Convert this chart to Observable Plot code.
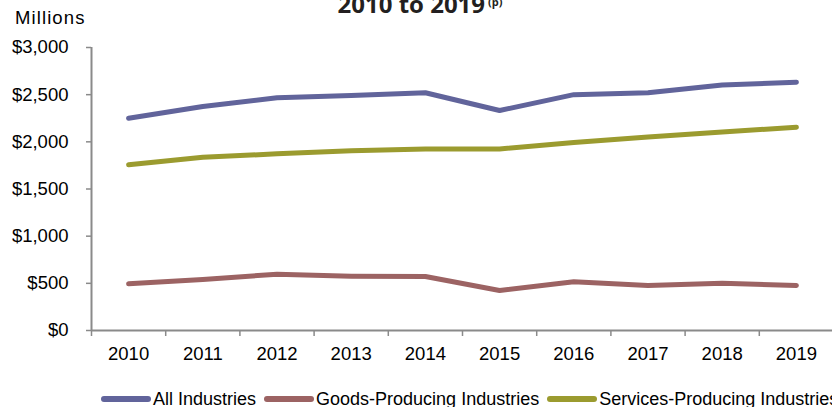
<!DOCTYPE html>
<html>
<head>
<meta charset="utf-8">
<script src="https://cdn.jsdelivr.net/npm/d3@7"></script>
<script src="https://cdn.jsdelivr.net/npm/@observablehq/plot@0.6"></script>
<style>
  html, body { margin: 0; padding: 0; background: #fff; overflow: hidden; }
  #wrap { position: relative; width: 832px; height: 407px; font-family: "Liberation Sans", Arial, sans-serif; color: #000; }
  #title { position: absolute; left: 0; width: 840px; top: -8px; text-align: center; font-family: "Open Sans", sans-serif; font-weight: 700; font-size: 24px; line-height: 24px; color: #231f20; white-space: nowrap; }
  #title sup { font-size: 11px; line-height: 11px; vertical-align: 0; position: relative; top: -7px; margin-left: 3px; }
  #units { position: absolute; left: 15px; top: 7px; font-size: 18.5px; line-height: 22px; letter-spacing: 1.1px; }
  #chart { position: absolute; left: 0; top: 0; }
  #legend { position: absolute; left: 101px; top: 388px; display: flex; align-items: center; font-size: 18px; line-height: 22px; white-space: nowrap; }
  .item { display: flex; align-items: center; margin-right: 8px; }
  .sw { width: 50px; height: 6px; border-radius: 3px; margin-right: 2px; }
</style>
</head>
<body>
<div id="wrap">
  <div id="chart"></div>
  <div id="title">2010 to 2019<sup>(p)</sup></div>
  <div id="units">Millions</div>
  <div id="legend"></div>
</div>
<script>
// ---- data ----
const years = [2010, 2011, 2012, 2013, 2014, 2015, 2016, 2017, 2018, 2019];
const allIndustries = [2250, 2375, 2467, 2490, 2520, 2332, 2500, 2520, 2602, 2632];
const goodsProducing = [495, 541, 597, 576, 572, 424, 516, 477, 502, 477];
const servicesProducing = [1756, 1836, 1873, 1905, 1925, 1925, 1993, 2050, 2105, 2155];
const seriesNames = ["All Industries", "Goods-Producing Industries", "Services-Producing Industries"];
const yTicks = [0, 500, 1000, 1500, 2000, 2500, 3000];

// ---- styles ----
const seriesColors = ["#61649b", "#9c6363", "#9b9b2f"];
const axisColor = "#8a8a8a";

const seriesValues = [allIndustries, goodsProducing, servicesProducing];
const rows = seriesNames.flatMap((name, i) =>
  years.map((year, j) => ({series: name, year, value: seriesValues[i][j]}))
);
const boundaries = years.map(y => y - 0.5);

const fmt = d => "$" + d3.format(",")(d);

const plot = Plot.plot({
  width: 832,
  height: 372,
  marginTop: 47,
  marginBottom: 42,
  marginLeft: 91,
  marginRight: 0,
  style: {fontFamily: "'Liberation Sans', Arial, sans-serif", fontSize: "18.5px", color: "#000", background: "transparent", overflow: "visible"},
  x: {domain: [years[0] - 0.5, years[years.length - 1] + 0.5], range: [91, 833]},
  y: {domain: [0, 3000], range: [330, 47]},
  color: {domain: seriesNames, range: seriesColors},
  marks: [
    Plot.axisY({ticks: yTicks, tickFormat: fmt, tickSize: 5, tickPadding: 18, stroke: axisColor, strokeWidth: 1.5, fill: "#000", label: null}),
    Plot.axisX({ticks: boundaries, tickSize: 6, tickFormat: () => "", stroke: axisColor, strokeWidth: 1.5, label: null}),
    Plot.axisX({ticks: years, tickSize: 0, tickPadding: 16, tickFormat: d => String(d), fill: "#000", label: null}),
    Plot.ruleX([boundaries[0]], {stroke: axisColor, strokeWidth: 2}),
    Plot.ruleY([0], {stroke: axisColor, strokeWidth: 2}),
    Plot.line(rows, {x: "year", y: "value", z: "series", stroke: "series", strokeWidth: 5, strokeLinejoin: "round", strokeLinecap: "round"})
  ]
});
document.getElementById("chart").appendChild(plot);

const legend = document.getElementById("legend");
seriesNames.forEach((name, i) => {
  const item = document.createElement("div");
  item.className = "item";
  const sw = document.createElement("div");
  sw.className = "sw";
  sw.style.background = seriesColors[i];
  const label = document.createElement("span");
  label.textContent = name;
  item.appendChild(sw);
  item.appendChild(label);
  legend.appendChild(item);
});
</script>
</body>
</html>
